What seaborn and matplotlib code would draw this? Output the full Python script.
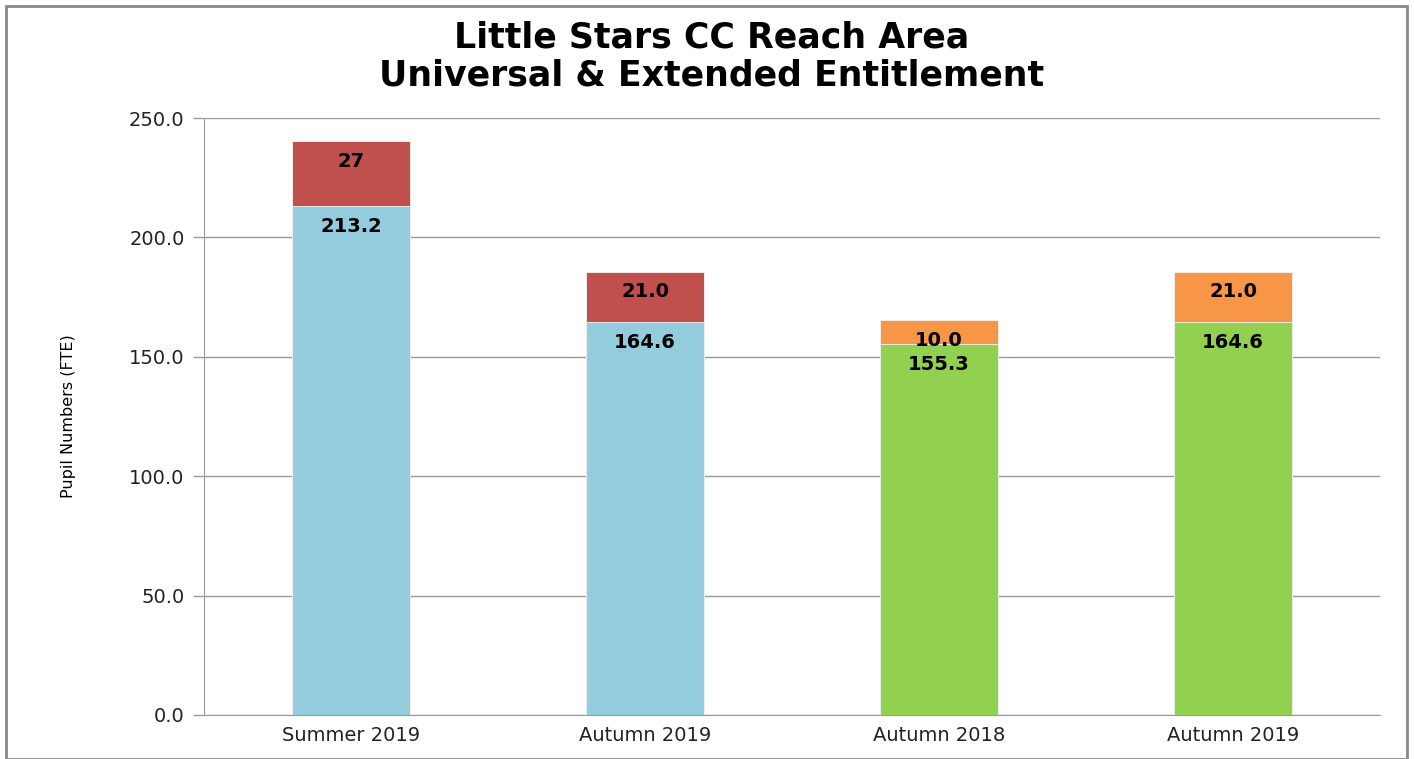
import matplotlib
matplotlib.use("Agg")
import matplotlib.pyplot as plt
import matplotlib.patches as mpatches
from matplotlib.ticker import FixedLocator, FormatStrFormatter
import seaborn as sns
import pandas as pd

# ---- data ----
slots = ["s1", "s2", "s3", "s4"]
categories = ["Summer 2019", "Autumn 2019", "Autumn 2018", "Autumn 2019"]
universal = [213.2, 164.6, 155.3, 164.6]
extended = [27, 21.0, 10.0, 21.0]
extended_labels = ["27", "21.0", "10.0", "21.0"]
universal_labels = ["213.2", "164.6", "155.3", "164.6"]
bottom_colors = ["#93CDDD", "#93CDDD", "#92D050", "#92D050"]
top_colors = ["#C0504D", "#C0504D", "#F79646", "#F79646"]

df = pd.DataFrame({
    "slot": slots,
    "universal": universal,
    "extended": extended,
})
df["total"] = df["universal"] + df["extended"]

sns.set_style("white")
plt.rcParams["font.family"] = ["DejaVu Sans"]

fig = plt.figure(figsize=(14.14, 7.59), dpi=100)
ax = fig.add_axes([0.1443, 0.058, 0.8317, 0.7865])

sns.barplot(data=df, x="slot", y="total", hue="slot", order=slots,
            palette=dict(zip(slots, top_colors)), width=0.4, legend=False,
            saturation=1, edgecolor="#f4f4f4", linewidth=0.6, ax=ax, zorder=3)
sns.barplot(data=df, x="slot", y="universal", hue="slot", order=slots,
            palette=dict(zip(slots, bottom_colors)), width=0.4, legend=False,
            saturation=1, edgecolor="#f4f4f4", linewidth=0.6, ax=ax, zorder=3)

# data labels: inside end of each segment
for i in range(len(slots)):
    ax.annotate(extended_labels[i], xy=(i, df["total"][i]), xytext=(0, -14.5),
                textcoords="offset points", ha="center", va="center",
                fontsize=14, fontweight="bold", color="black", zorder=5)
    ax.annotate(universal_labels[i], xy=(i, universal[i]), xytext=(0, -14.5),
                textcoords="offset points", ha="center", va="center",
                fontsize=14, fontweight="bold", color="black", zorder=5)

ax.set_xlim(-0.5, len(slots) - 0.5)
ax.set_ylim(0, 250)
ax.set_yticks([0, 50, 100, 150, 200, 250])
ax.yaxis.set_major_formatter(FormatStrFormatter("%.1f"))
ax.tick_params(axis="y", labelsize=14, labelcolor="#222222", color="#999999",
               length=8, width=1, direction="out", left=True, pad=6)

ax.set_xticks(range(len(slots)))
ax.set_xticklabels(categories)
ax.tick_params(axis="x", which="major", length=0, labelsize=14, labelcolor="#222222", pad=8)
ax.xaxis.set_minor_locator(FixedLocator([-0.5, 0.5, 1.5, 2.5, 3.5]))
ax.tick_params(axis="x", which="minor", length=6, width=1, color="#888888", direction="out")
ax.set_xlabel("")

ax.yaxis.grid(True, color="#999999", linewidth=1, zorder=0)
ax.set_axisbelow(True)
for s in ["top", "right"]:
    ax.spines[s].set_visible(False)
ax.spines["left"].set_color("#999999")
ax.spines["bottom"].set_color("#999999")

ax.set_ylabel("Pupil Numbers (FTE)", fontsize=11.5, color="black", labelpad=38)

fig.text(0.503, 0.925, "Little Stars CC Reach Area\nUniversal & Extended Entitlement",
         ha="center", va="center", fontsize=25, fontweight="bold",
         color="black", linespacing=1.15)

# outer chart border
fig.patches.append(mpatches.Rectangle((0.004, 0.0), 0.991, 0.992, transform=fig.transFigure,
                                      fill=False, edgecolor="#888888", linewidth=2))

fig.savefig("out.png", dpi=100)
